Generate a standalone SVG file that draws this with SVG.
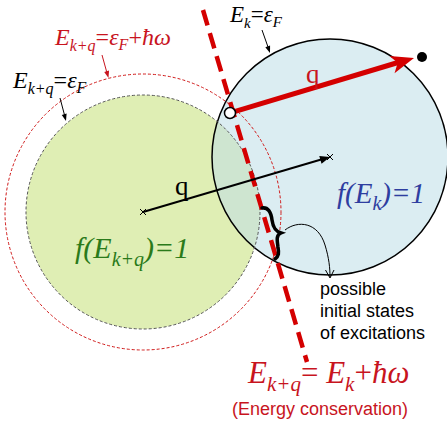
<svg xmlns="http://www.w3.org/2000/svg" width="447" height="421" viewBox="0 0 447 421">
<style>
.m{font-family:"Liberation Serif","Times New Roman",serif;}
.i{font-style:italic;}
.s{font-family:"Liberation Sans",Arial,sans-serif;}
.red{fill:#c8141e;}
</style>
<defs>
<clipPath id="blueClip"><circle cx="330" cy="157" r="118"/></clipPath>
</defs>
<rect width="447" height="421" fill="#ffffff"/>
<g id="fermi-sphere-kq">
<circle cx="143" cy="212" r="117" fill="#dfeeb4"/>
</g>
<g id="fermi-sphere-k">
<circle cx="330" cy="157" r="118" fill="#dbedf2"/>
<circle cx="143" cy="212" r="117" fill="#cee5d0" clip-path="url(#blueClip)"/>
<circle cx="330" cy="157" r="118" fill="none" stroke="#000" stroke-width="1.5"/>
</g>
<g id="outlines">
<circle cx="143" cy="212" r="117" fill="none" stroke="#555" stroke-width="1" stroke-dasharray="3 2"/>
<circle cx="143" cy="212" r="138" fill="none" stroke="#d01a1a" stroke-width="1" stroke-dasharray="3 2"/>
</g>
<g id="connectors">
<line x1="203" y1="10" x2="307" y2="362" stroke="#d40000" stroke-width="4.5" stroke-dasharray="16 8"/>
<line x1="143" y1="212" x2="322" y2="159.3" stroke="#000" stroke-width="2"/>
<path d="M0,0 L-10,-4 L-10,4 Z" transform="translate(330,157) rotate(-16.4)" fill="#000"/>
<path d="M140,209 L146,215 M140,215 L146,209" stroke="#000" stroke-width="1"/>
<path d="M327,154 L333,160 M327,160 L333,154" stroke="#000" stroke-width="1"/>
<line x1="235.3" y1="111.4" x2="398" y2="62.5" stroke="#d40000" stroke-width="5"/>
<path d="M0,0 L-23,-9 L-17,0 L-23,9 Z" transform="translate(414,58) rotate(-16.6)" fill="#d40000"/>
<circle cx="422" cy="57" r="5" fill="#000"/>
<circle cx="230" cy="113" r="5.5" fill="#fff" stroke="#000" stroke-width="1.5"/>
<path d="M262,208 C268,207 271,212 272,220 C273,227 275,231 281,233 C276,235 277,240 278,247 C279,253 279,256 275,259" fill="none" stroke="#000" stroke-width="3.5" stroke-linecap="round"/>
<path d="M285,230 C298,220 318,222 325,245 C329,258 330,268 330,277" fill="none" stroke="#000" stroke-width="1"/>
<path d="M325.5,270 L330,278 L334,270" fill="none" stroke="#000" stroke-width="1"/>
<line x1="102" y1="55" x2="107" y2="73" stroke="#c8141e" stroke-width="1"/>
<path d="M0,0 L-7,-2.5 L-7,2.5 Z" transform="translate(108.5,78) rotate(74.5)" fill="#c8141e"/>
<line x1="60" y1="98" x2="64.5" y2="115" stroke="#000" stroke-width="1"/>
<path d="M0,0 L-7,-2.5 L-7,2.5 Z" transform="translate(66,121) rotate(75)" fill="#000"/>
<line x1="262" y1="30" x2="268" y2="47" stroke="#000" stroke-width="1"/>
<path d="M0,0 L-7,-2.5 L-7,2.5 Z" transform="translate(270,53) rotate(71)" fill="#000"/>
</g>
<g id="labels">
<text class="m red" x="55" y="45" font-size="24"><tspan class="i">E</tspan><tspan class="i" font-size="16" dy="6">k+q</tspan><tspan dy="-6">=</tspan><tspan class="i">ε</tspan><tspan class="i" font-size="16" dy="5">F</tspan><tspan dy="-5">+</tspan><tspan class="i">ħω</tspan></text>
<text class="m" x="13" y="88" font-size="24" fill="#000"><tspan class="i">E</tspan><tspan class="i" font-size="16" dy="6">k+q</tspan><tspan dy="-6">=</tspan><tspan class="i">ε</tspan><tspan class="i" font-size="16" dy="5">F</tspan></text>
<text class="m" x="230" y="22" font-size="23" fill="#000"><tspan class="i">E</tspan><tspan class="i" font-size="15" dy="6">k</tspan><tspan dy="-6">=</tspan><tspan class="i">ε</tspan><tspan class="i" font-size="15" dy="5">F</tspan></text>
<text class="m red" x="306" y="83" font-size="27">q</text>
<text class="m" x="175" y="195" font-size="27" fill="#000">q</text>
<text class="m i" x="337" y="203" font-size="29" fill="#2e3ea0">f(E<tspan font-size="20" dy="7">k</tspan><tspan dy="-7">)=1</tspan></text>
<text class="m i" x="75" y="258" font-size="30" fill="#2a7a1a">f(E<tspan font-size="20" dy="8">k+q</tspan><tspan dy="-8">)=1</tspan></text>
<text class="s" x="320" y="295" font-size="18" fill="#000">possible</text>
<text class="s" x="320" y="317" font-size="18" fill="#000">initial states</text>
<text class="s" x="320" y="339" font-size="18" fill="#000">of excitations</text>
<text class="m red" x="248" y="383" font-size="31"><tspan class="i">E</tspan><tspan class="i" font-size="21" dy="8">k+q</tspan><tspan dy="-8">= </tspan><tspan class="i">E</tspan><tspan class="i" font-size="21" dy="8">k</tspan><tspan dy="-8">+</tspan><tspan class="i">ħω</tspan></text>
<text class="s red" x="232" y="415" font-size="18">(Energy conservation)</text>
</g>
</svg>
